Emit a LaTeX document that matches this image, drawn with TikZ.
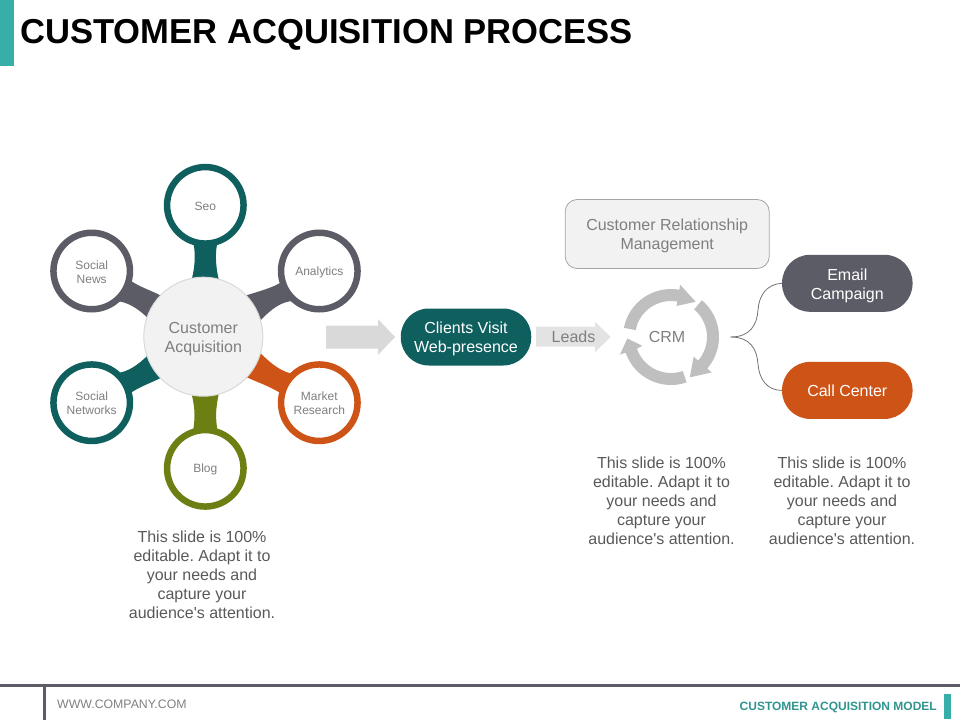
\documentclass[tikz,border=0pt]{standalone}
\usepackage{fontspec}
\setmainfont{Liberation Sans}[Ligatures=TeXOff]
\usetikzlibrary{backgrounds}
\frenchspacing
\definecolor{tealdark}{HTML}{0F5F5F}
\definecolor{slategray}{HTML}{5C5C66}
\definecolor{burnt}{HTML}{CE5316}
\definecolor{olive}{HTML}{6B7F12}
\definecolor{tealbright}{HTML}{38AEA8}
\definecolor{bodytext}{HTML}{595959}
\definecolor{softtext}{HTML}{7F7F7F}
\newcommand{\parablock}{This slide is 100\%\\editable. Adapt it to\\your needs and\\capture your\\audience's attention.}
\tikzset{
  lowered/.style={text height=34.8pt},
  twolinesmall/.style={text height=24.7pt},
  satellite/.style={circle,draw=#1,line width=6.5pt,fill=white,minimum size=76.5pt,inner sep=0pt,outer sep=0pt,
    align=center,text=softtext,text height=10.7pt,font=\fontsize{12}{14}\selectfont},
  hubnode/.style={circle,draw=black!15,line width=1pt,fill=black!5,minimum size=119pt,inner sep=0pt,outer sep=0pt,
    align=center,text=softtext,lowered,font=\fontsize{16}{19}\selectfont},
  pill/.style={rounded corners=28pt,fill=#1,minimum width=130.5pt,minimum height=57pt,inner sep=0pt,outer sep=0pt,
    align=center,text=white,font=\fontsize{16}{19}\selectfont},
  bodypara/.style={align=center,text=bodytext,font=\fontsize{16}{19}\selectfont,inner sep=0pt},
  crmbox/.style={draw=black!35,line width=.8pt,fill=black!5,rounded corners=12pt,minimum width=204pt,minimum height=69pt,
    inner sep=0pt,outer sep=0pt,align=center,text=softtext,lowered,font=\fontsize{16}{19}\selectfont},
  plainlabel/.style={text=softtext,font=\fontsize{16}{19}\selectfont,inner sep=0pt},
  branch/.style={draw=black!55,line width=.8pt},
  cyclearrow/.style={fill=black!25},
}
\begin{document}
\begin{tikzpicture}[x=1pt,y=-1pt]
\useasboundingbox (0,0) rectangle (960,720);
% header
\fill[tealbright] (0,0) rectangle (14,66);
\node[anchor=west,inner sep=0pt,text=black,font=\fontsize{34.6}{40}\bfseries\selectfont] (title) at (20,35) {CUSTOMER ACQUISITION PROCESS};
% hub and satellites
\node[hubnode] (hub) at (203.3,336.7) {Customer\\Acquisition};
\node[satellite=tealdark] (seo) at (205.3,205.3) {Seo};
\node[satellite=slategray,twolinesmall] (news) at (91.7,271) {Social\\News};
\node[satellite=slategray] (analytics) at (319.3,271) {Analytics};
\node[satellite=tealdark,twolinesmall] (networks) at (91.7,402.7) {Social\\Networks};
\node[satellite=burnt,twolinesmall] (market) at (319.3,402.7) {Market\\Research};
\node[satellite=olive] (blog) at (205.3,468.3) {Blog};
\begin{scope}[on background layer]
\fill[tealdark] (seo.-109) .. controls (195.5,250) and (195.5,265) .. (hub.101) -- (hub.75) .. controls (215.2,265) and (215.2,250) .. (seo.-71) -- cycle;
\fill[slategray] (news.-13) .. controls (139.5,287) and (151,290.5) .. (hub.136) -- (hub.161) .. controls (139,309.5) and (127,301) .. (news.-52) -- cycle;
\fill[slategray] (hub.44) .. controls (262.3,290.5) and (274,287) .. (analytics.196) -- (analytics.-129) .. controls (281,301) and (271,309.5) .. (hub.16) -- cycle;
\fill[tealdark] (networks.51) .. controls (127,373) and (139,364) .. (hub.199) -- (hub.-136) .. controls (151,383) and (139.5,386.5) .. (networks.13) -- cycle;
\fill[burnt] (hub.-16) .. controls (271,364) and (283,373) .. (market.131) -- (market.167) .. controls (270.5,386.5) and (259,383) .. (hub.-43) -- cycle;
\fill[olive] (hub.-101) .. controls (195.2,410) and (195.2,418.3) .. (blog.109) -- (blog.71) .. controls (215.4,418.3) and (215.4,410) .. (hub.-75) -- cycle;
\end{scope}
% big arrow
\fill[black!15] (326,325.5) -- (378,325.5) -- (378,319) -- (395,337) -- (378,355) -- (378,348.5) -- (326,348.5) -- cycle;
\node[pill=tealdark,lowered] (clients) at (466,337) {Clients Visit\\Web-presence};
% leads arrow
\fill[black!11] (536,326.7) -- (595,326.7) -- (595,321.7) -- (610.7,337) -- (595,352.3) -- (595,346.7) -- (536,346.7) -- cycle;
\node[plainlabel] (leads) at (573.5,337) {Leads};
% CRM
\node[crmbox] (relmgmt) at (667.2,234) {Customer Relationship\\Management};
\begin{scope}[shift={(671,337)},x=1pt,y=1pt]
\fill[cyclearrow] (169:48pt) arc[start angle=169,end angle=80,radius=48pt] -- (80:53pt) -- (55:43pt) -- (80:31.5pt) -- (80:36pt) arc[start angle=80,end angle=169,radius=36pt] -- cycle;
\fill[cyclearrow] (50:48pt) arc[start angle=50,end angle=-41,radius=48pt] -- (-41:54pt) -- (-65:44.5pt) -- (-41:30pt) -- (-41:36pt) arc[start angle=-41,end angle=50,radius=36pt] -- cycle;
\fill[cyclearrow] (-71:48pt) arc[start angle=-71,end angle=-161,radius=48pt] -- (-161:54pt) -- (-178:43.7pt) -- (-163:30pt) -- (-161:36pt) arc[start angle=-161,end angle=-71,radius=36pt] -- cycle;
\end{scope}
\node[plainlabel] (crm) at (667,337) {CRM};
% right branch
\node[pill=slategray,lowered] (email) at (847.3,283.3) {Email\\Campaign};
\node[pill=burnt] (call) at (847.3,390.4) {\raisebox{-.6pt}{Call Center}};
\coordinate (crmout) at (730.7,337);
\draw[branch] (crmout) .. controls (750,337) and (757,325) .. (758,310) .. controls (759,295) and (767,284) .. (email.west);
\draw[branch] (crmout) .. controls (750,337) and (757,349) .. (758,364) .. controls (759,379) and (767,390.5) .. (call.west);
% paragraphs
\node[bodypara] (textone) at (202,574.7) {\parablock};
\node[bodypara] (texttwo) at (661.5,500.7) {\parablock};
\node[bodypara] (textthree) at (842,500.7) {\parablock};
% footer
\fill[slategray] (0,683.5) rectangle (960,687);
\fill[slategray] (42.5,687) rectangle (45.5,720);
\node[anchor=west,inner sep=0pt,text=softtext,font=\fontsize{12.3}{14}\selectfont] (web) at (57,704.5) {WWW.COMPANY.COM};
\node[anchor=east,inner sep=0pt,text=tealbright!85!black,font=\fontsize{12}{14}\bfseries\selectfont] (model) at (937,707.5) {CUSTOMER ACQUISITION MODEL};
\fill[tealbright] (944,694) rectangle (951,719);
\end{tikzpicture}
\end{document}
